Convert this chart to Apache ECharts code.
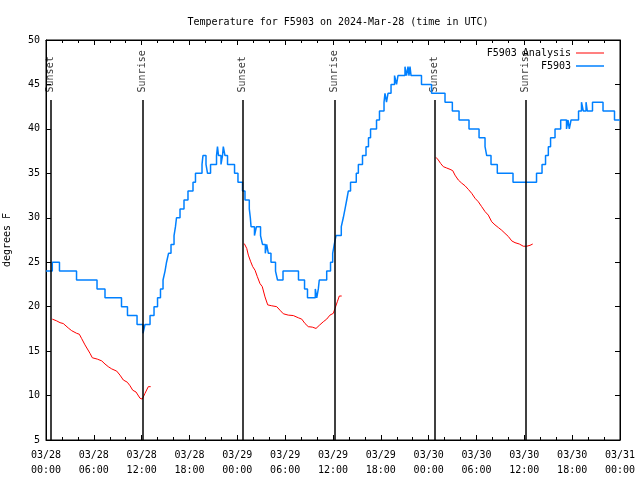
<!DOCTYPE html>
<html>
<head>
<meta charset="utf-8">
<script src="https://cdn.jsdelivr.net/npm/echarts@6/dist/echarts.min.js"></script>
<style>html,body{margin:0;padding:0;background:#fff}#c{width:640px;height:480px}</style>
</head>
<body>
<div id="c"></div>
<script>
// hours since 2024-03-28 00:00 UTC
var obsHours = [0.00,0.79,1.69,3.83,6.40,7.40,9.47,10.22,11.42,12.17,12.42,13.05,13.55,13.99,14.36,14.68,14.93,15.12,15.37,15.68,16.06,16.24,16.37,16.81,17.31,17.81,18.44,18.75,19.57,19.69,20.07,20.26,20.64,21.39,21.51,21.64,21.95,22.14,22.24,22.45,22.77,23.65,24.08,24.65,24.96,25.50,25.63,25.72,26.15,26.40,26.91,27.16,27.51,27.68,27.89,28.22,28.79,29.04,29.73,31.67,32.43,32.80,33.78,33.96,34.16,34.28,35.21,35.69,35.96,36.16,36.38,37.04,37.29,37.51,37.72,37.92,38.20,38.92,39.18,39.70,40.14,40.45,40.71,41.46,41.83,42.40,42.52,42.71,42.90,43.28,43.72,43.97,44.15,45.03,45.22,45.41,45.53,45.66,45.79,47.10,48.36,50.05,50.97,51.81,53.06,54.32,55.07,55.28,55.82,56.61,58.58,61.53,62.22,62.66,63.01,63.29,63.85,64.56,65.29,65.48,65.64,65.86,66.80,67.17,67.40,67.74,67.90,68.55,69.87,71.31,72.00];
var obsTemps = [24,25,24,23,22,21,20,19,18,17,18,19,20,21,22,23,24,25,26,27,28,29,30,31,32,33,34,35,36,37,36,35,36,37,38,37,36,37,38,37,36,35,34,33,32,31,30,29,28,29,28,27,26,27,26,25,24,23,24,23,22,21,22,21,22,23,24,25,26,27,28,29,30,31,32,33,34,35,36,37,38,39,40,41,42,43,44,43,44,45,46,45,46,47,46,47,46,47,46,45,44,43,42,41,40,39,38,37,36,35,34,35,36,37,38,39,40,41,40,41,40,41,42,43,42,43,42,43,42,41,41];

var anaHours1 = [0.79,1.34,1.76,2.17,2.80,3.22,3.85,4.18,4.48,4.89,5.10,5.52,5.81,6.44,6.99,7.40,7.81,8.24,8.87,9.28,9.70,10.20,10.54,10.88,11.29,11.79,12.08,12.42,12.83,13.13];
var anaTemps1 = [18.6,18.4,18.2,18.1,17.6,17.3,17.0,16.9,16.4,15.7,15.5,14.75,14.25,14.1,13.9,13.55,13.25,13.0,12.75,12.3,11.75,11.5,11.1,10.6,10.4,9.7,9.6,10.25,11.0,11.0];
var anaHours2 = [24.87,25.18,25.38,25.68,25.93,26.22,26.50,26.84,27.13,27.47,27.81,28.31,28.94,29.35,29.77,30.39,31.02,31.65,32.08,32.49,32.90,33.40,33.87,34.28,34.78,35.21,35.62,36.04,36.25,36.54,36.79,37.09];
var anaTemps2 = [27.1,26.55,25.8,25.05,24.5,24.1,23.4,22.6,22.25,21.1,20.2,20.1,20.0,19.6,19.2,19.05,19.0,18.75,18.6,18.1,17.75,17.7,17.55,17.9,18.3,18.6,19.05,19.25,19.8,20.55,21.2,21.2];
var anaHours3 = [48.92,49.21,49.51,49.84,50.26,50.68,51.02,51.30,51.72,52.14,52.56,52.97,53.40,53.81,54.23,54.65,55.07,55.48,55.91,56.32,56.74,57.16,57.57,57.99,58.42,58.83,59.37,59.87,60.30,60.71,61.05];
var anaTemps3 = [36.8,36.5,36.1,35.75,35.6,35.45,35.3,34.8,34.25,33.9,33.6,33.2,32.75,32.2,31.8,31.25,30.7,30.3,29.55,29.2,28.9,28.6,28.25,27.9,27.4,27.2,27.05,26.8,26.8,26.9,27.05];

var sunHours = [0.54,12.08,24.63,36.17,48.71,60.13];
var sunNames = ['Sunset','Sunrise','Sunset','Sunrise','Sunset','Sunrise'];
var dayLabels = ['03/28','03/29','03/30','03/31'];

function zip(a,b){return a.map(function(v,i){return [v,b[i]];});}
var FONT = 'DejaVu Sans Mono';
var txt = {fontFamily: FONT, fontSize: 10, color: '#000'};

var chart = echarts.init(document.getElementById('c'), null, {renderer: 'canvas'});
function xAx(pos, labels){
  return {
    type: 'value', min: 0, max: 72, interval: 6, position: pos,
    axisLine: {show: true, onZero: false, lineStyle: {color: '#000', width: 1}},
    axisTick: {show: true, inside: true, length: 5, lineStyle: {color: '#000'}},
    minorTick: {show: true, splitNumber: 3, length: 3, lineStyle: {color: '#000'}},
    splitLine: {show: false},
    axisLabel: labels ? {show: true, fontFamily: FONT, fontSize: 10, color: '#000', margin: 8, lineHeight: 15,
      formatter: function(v){ var d = Math.floor(v/24+1e-9); var hh = Math.round(v - d*24); return dayLabels[d] + '\n' + (hh<10?'0':'') + hh + ':00'; }} : {show: false}
  };
}
function yAx(pos, labels){
  var o = {
    type: 'value', min: 5, max: 50, interval: 5, position: pos,
    axisLine: {show: true, onZero: false, lineStyle: {color: '#000', width: 1}},
    axisTick: {show: true, inside: true, length: 5, lineStyle: {color: '#000'}},
    splitLine: {show: false},
    axisLabel: labels ? {show: true, fontFamily: FONT, fontSize: 10, color: '#000', margin: 6} : {show: false}
  };
  if (labels) { o.name = 'degrees F'; o.nameLocation = 'middle'; o.nameGap = 34; o.nameRotate = 90; o.nameTextStyle = txt; }
  return o;
}
var anaStyle = {type: 'line', name: 'F5903 Analysis', showSymbol: false, symbol: 'none', color: '#ff0000', lineStyle: {color: '#ff0000', width: 1}, animation: false, z: 3};
var option = {
  animation: false,
  backgroundColor: '#fff',
  title: {text: 'Temperature for F5903 on 2024-Mar-28 (time in UTC)', left: 333, textAlign: 'center', top: 12,
    textStyle: {fontFamily: FONT, fontSize: 10, fontWeight: 'normal', color: '#000'}},
  grid: {left: 46, right: 20, top: 40, bottom: 40, containLabel: false, outerBoundsMode: 'none', show: true, borderColor: '#000', borderWidth: 1, backgroundColor: 'transparent'},
  legend: [
    {data: ['F5903 Analysis'], right: 31, top: 43, orient: 'vertical', align: 'right', icon: 'rect', itemWidth: 28, itemHeight: 1, textStyle: txt, selectedMode: false},
    {data: ['F5903'], right: 31, top: 56, orient: 'vertical', align: 'right', icon: 'rect', itemWidth: 28, itemHeight: 1.5, textStyle: txt, selectedMode: false}
  ],
  xAxis: [xAx('bottom', true), xAx('top', false)],
  yAxis: [yAx('left', true), yAx('right', false)],
  series: [
    {
      type: 'scatter', name: 'sun', symbolSize: 0, z: 2, animation: false, silent: true,
      data: sunHours.map(function(h,i){ return {value: [h, 44.1], name: sunNames[i]}; }),
      label: {show: true, position: 'inside', rotate: 90, align: 'left', verticalAlign: 'middle', formatter: '{b}', fontFamily: FONT, fontSize: 10, color: '#000'},
      markLine: {silent: true, symbol: ['none','none'], animation: false, label: {show: false},
        lineStyle: {color: '#000', width: 1.5, type: 'solid'},
        data: sunHours.map(function(h){ return [{coord: [h, 5]}, {coord: [h, 43.25]}]; })}
    },
    Object.assign({data: zip(anaHours1, anaTemps1)}, anaStyle),
    Object.assign({data: zip(anaHours2, anaTemps2)}, anaStyle),
    Object.assign({data: zip(anaHours3, anaTemps3)}, anaStyle),
    {type: 'line', name: 'F5903', step: 'end', showSymbol: false, symbol: 'none', color: '#0080ff',
     lineStyle: {color: '#0080ff', width: 1.5}, data: zip(obsHours, obsTemps), animation: false, z: 4}
  ]
};
chart.setOption(option);
</script>
</body>
</html>
